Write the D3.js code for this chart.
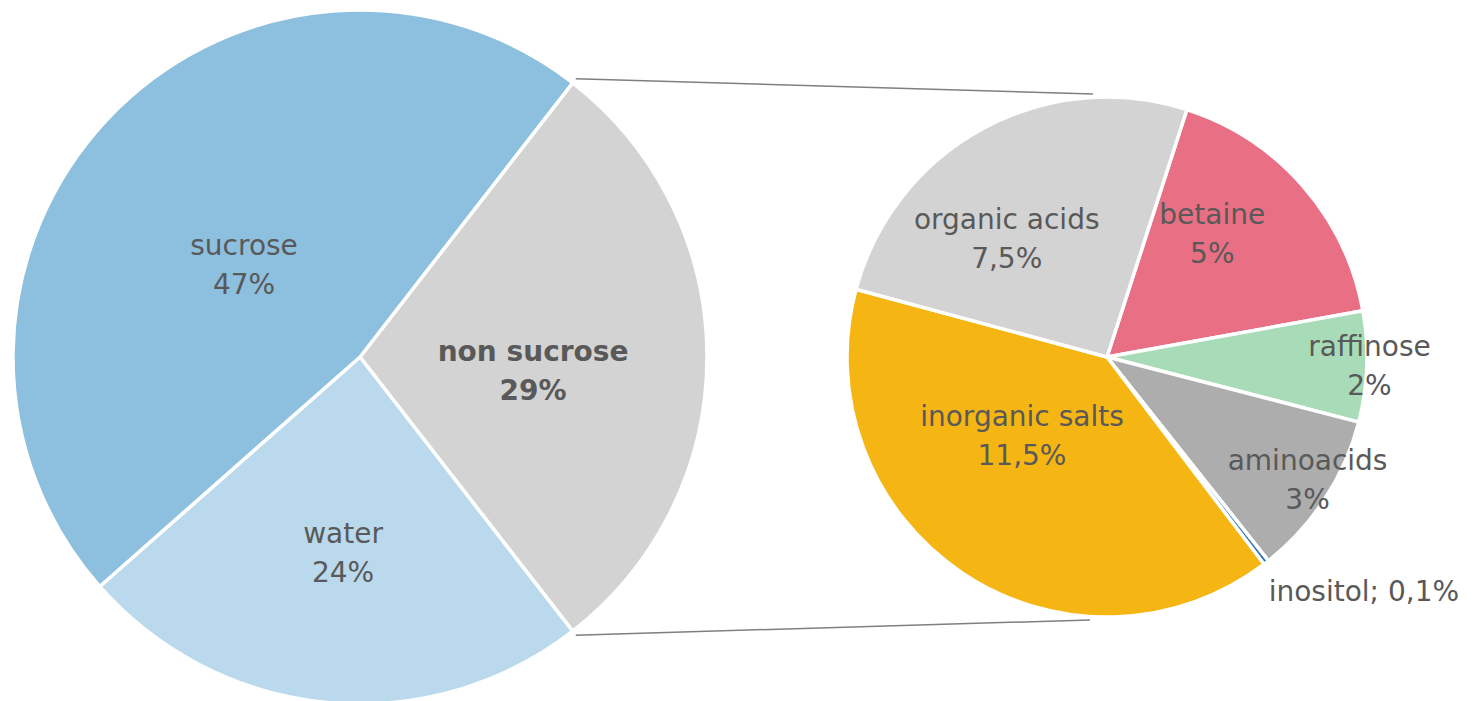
<!DOCTYPE html>
<html>
<head>
<meta charset="utf-8">
<script src="https://cdn.jsdelivr.net/npm/d3@7"></script>
<style>
  body { margin: 0; background: #fff; }
  svg text { font-family: "DejaVu Sans", Verdana, sans-serif; fill: #595959; }
</style>
</head>
<body>
<svg id="chart" width="1475" height="701"></svg>
<script>
// main pie
var mainNames = ["non sucrose", "water", "sucrose"];
var mainValues = [29, 24, 47];
var mainLabels = ["29%", "24%", "47%"];
var mainColors = ["#d3d3d3", "#bad9ec", "#8dbfdf"];

// breakdown of "non sucrose"
var subNames = ["betaine", "raffinose", "aminoacids", "inositol", "inorganic salts", "organic acids"];
var subValues = [5, 2, 3, 0.1, 11.5, 7.5];
var subLabels = ["5%", "2%", "3%", "0,1%", "11,5%", "7,5%"];
var subColors = ["#e96f85", "#a8dcb9", "#adadad", "#2e75b6", "#f5b513", "#d3d3d3"];

var svg = d3.select("#chart");

// layout
var c1 = {x: 360, y: 357, r: 347};
var c2 = {x: 1107, y: 357, r: 260};
var deg = Math.PI / 180;

// label placement: radius fraction and angle (deg, clockwise from 12 o'clock)
var mainLabelPos = [[0.50, 94], [0.56, 185], [0.43, 309]];
var subLabelPos = [[0.63, 40], [1.01, 91.5], [0.90, 121], [1.34, 132.5], [0.44, 228], [0.60, 320]];

function polar(c, f, a) {
  return [c.x + c.r * f * Math.sin(a * deg), c.y - c.r * f * Math.cos(a * deg)];
}

// left pie: non sucrose centred on 3 o'clock
var mainStart = 90 - mainValues[0] / d3.sum(mainValues) * 360 / 2;
var pie1 = d3.pie().sort(null).value(d => d)
  .startAngle(mainStart * deg).endAngle((mainStart + 360) * deg);
var arcs1 = pie1(mainValues);
var arc1 = d3.arc().innerRadius(0).outerRadius(c1.r);

var g1 = svg.append("g").attr("transform", "translate(" + c1.x + "," + c1.y + ")");
g1.selectAll("path").data(arcs1).enter().append("path")
  .attr("d", arc1)
  .attr("fill", (d, i) => mainColors[i])
  .attr("stroke", "#fff").attr("stroke-width", 3.5).attr("stroke-linejoin", "round");

// right pie
var subStart = 17.9;
var pie2 = d3.pie().sort(null).value(d => d)
  .startAngle(subStart * deg).endAngle((subStart + 360) * deg);
var arcs2 = pie2(subValues);
var arc2 = d3.arc().innerRadius(0).outerRadius(c2.r);

var g2 = svg.append("g").attr("transform", "translate(" + c2.x + "," + c2.y + ")");
g2.selectAll("path").data(arcs2).enter().append("path")
  .attr("d", arc2)
  .attr("fill", (d, i) => subColors[i])
  .attr("stroke", "#fff").attr("stroke-width", 3.5).attr("stroke-linejoin", "round");

// connector lines
var a0 = arcs1[0].startAngle, a1 = arcs1[0].endAngle;
var p0 = [c1.x + (c1.r + 5) * Math.sin(a0), c1.y - (c1.r + 5) * Math.cos(a0)];
var p1 = [c1.x + (c1.r + 5) * Math.sin(a1), c1.y - (c1.r + 5) * Math.cos(a1)];
svg.append("line")
  .attr("x1", p0[0]).attr("y1", p0[1])
  .attr("x2", c2.x - 14).attr("y2", c2.y - c2.r - 3)
  .attr("stroke", "#7f7f7f").attr("stroke-width", 1.5);
svg.append("line")
  .attr("x1", p1[0]).attr("y1", p1[1])
  .attr("x2", c2.x - 17).attr("y2", c2.y + c2.r + 3)
  .attr("stroke", "#7f7f7f").attr("stroke-width", 1.5);

// labels
function twoLine(g, name, pct, pos, bold) {
  var t = g.append("text")
    .attr("text-anchor", "middle")
    .attr("font-size", 28)
    .attr("font-weight", bold ? "bold" : "normal");
  t.append("tspan").attr("x", pos[0]).attr("y", pos[1] - 8).text(name);
  t.append("tspan").attr("x", pos[0]).attr("y", pos[1] + 31).text(pct);
}

mainNames.forEach(function(n, i) {
  var p = polar(c1, mainLabelPos[i][0], mainLabelPos[i][1]);
  twoLine(svg, n, mainLabels[i], p, n === "non sucrose");
});

subNames.forEach(function(n, i) {
  var p = polar(c2, subLabelPos[i][0], subLabelPos[i][1]);
  if (n === "inositol") {
    svg.append("text")
      .attr("x", p[0]).attr("y", p[1] + 9)
      .attr("text-anchor", "middle")
      .attr("font-size", 28)
      .text(n + "; " + subLabels[i]);
  } else {
    twoLine(svg, n, subLabels[i], p, false);
  }
});
</script>
</body>
</html>
